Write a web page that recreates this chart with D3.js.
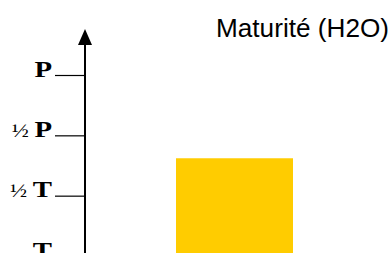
<!doctype html>
<html lang="fr">
<head>
<meta charset="utf-8">
<title>Maturité (H2O)</title>
<style>
  body { margin: 0; background: #fff; }
</style>
</head>
<body>
<div id="chart"></div>
<script src="https://cdn.jsdelivr.net/npm/d3@7"></script>
<script>
// maturity levels on the vertical axis (bottom to top)
var levels = [0, 1, 2, 3];
var levelFrac = ["", "½", "½", ""];
var levelLetter = ["T", "T", "P", "P"];

// the one bar
var categories = ["H2O"];
var values = [1.62];

var title = "Maturité (H2O)";

var width = 391, height = 253;

var svg = d3.select("#chart")
    .append("svg")
    .attr("width", width)
    .attr("height", height);

var y = d3.scaleLinear()
    .domain([0, 3])
    .range([256, 75]);

var x = d3.scaleBand()
    .domain(categories)
    .range([176, 293]);

// bar
svg.selectAll("rect.bar")
  .data(values)
  .join("rect")
    .attr("class", "bar")
    .attr("x", function(d, i){ return x(categories[i]); })
    .attr("width", x.bandwidth())
    .attr("y", function(d){ return y(d); })
    .attr("height", function(d){ return y(0) - y(d); })
    .attr("fill", "#ffcc00");

// vertical axis with arrow
var axisX = 85;

svg.append("line")
    .attr("x1", axisX).attr("x2", axisX)
    .attr("y1", 44).attr("y2", height + 5)
    .attr("stroke", "#000")
    .attr("stroke-width", 2);

svg.append("path")
    .attr("d", "M" + axisX + ",29 L" + (axisX - 7) + ",45 L" + (axisX + 7) + ",45 Z")
    .attr("fill", "#000");

var axis = d3.axisLeft(y)
    .tickValues(levels)
    .tickSize(30)
    .tickPadding(3)
    .tickFormat(function(){ return ""; });

var g = svg.append("g")
    .attr("transform", "translate(" + axisX + ",0)")
    .call(axis);

g.select(".domain").remove();
g.selectAll(".tick line").attr("stroke", "#000").attr("stroke-width", 1.2);

// the labels are drawn a bit wide, as in the original slide
var sx = 1.2;
g.selectAll(".tick text")
    .attr("x", -33 / sx)
    .attr("dy", "1")
    .attr("transform", "scale(" + sx + ",1)")
    .attr("font-family", "'Liberation Serif', 'Times New Roman', serif")
    .attr("fill", "#000")
    .each(function(d, i){
      var t = d3.select(this);
      if (levelFrac[i]) {
        t.append("tspan")
          .attr("font-size", 19)
          .text(levelFrac[i] + " ");
      }
      t.append("tspan")
        .attr("font-size", 24)
        .attr("font-weight", "bold")
        .text(levelLetter[i]);
    });

// title
svg.append("text")
    .attr("x", 216)
    .attr("y", 37)
    .attr("font-family", "'Liberation Sans', Arial, sans-serif")
    .attr("font-size", 26)
    .attr("textLength", 173)
    .attr("lengthAdjust", "spacingAndGlyphs")
    .attr("fill", "#000")
    .text(title);
</script>
</body>
</html>
